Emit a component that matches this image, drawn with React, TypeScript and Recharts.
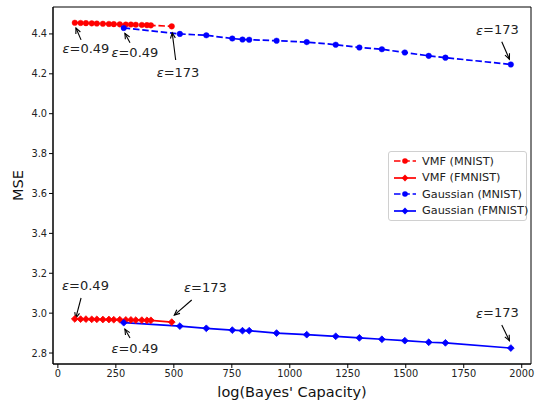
import React from 'react';
import { LineChart, Line, XAxis, YAxis, ReferenceLine, ReferenceDot, ReferenceArea, Legend, Label } from 'recharts';

const vmfCapacity = [73, 98, 121, 146, 168, 194, 220, 241, 267, 293, 315, 336, 362, 384, 401, 491];
const vmfMnistMse = [4.456, 4.455, 4.454, 4.453, 4.452, 4.451, 4.450, 4.449, 4.448, 4.447, 4.447, 4.446, 4.445, 4.444, 4.443, 4.438];
const vmfFmnistMse = [2.971, 2.970, 2.970, 2.969, 2.969, 2.968, 2.968, 2.967, 2.967, 2.966, 2.966, 2.965, 2.965, 2.964, 2.964, 2.955];
const gaussCapacity = [284, 526, 640, 752, 796, 825, 943, 1073, 1198, 1300, 1397, 1496, 1599, 1671, 1953];
const gaussMnistMse = [4.430, 4.400, 4.393, 4.377, 4.372, 4.371, 4.366, 4.359, 4.346, 4.332, 4.323, 4.307, 4.290, 4.281, 4.247];
const gaussFmnistMse = [2.952, 2.935, 2.924, 2.915, 2.912, 2.912, 2.900, 2.892, 2.884, 2.876, 2.869, 2.862, 2.854, 2.851, 2.825];

const xTicks = [0, 250, 500, 750, 1000, 1250, 1500, 1750, 2000];
const yTicks = [2.8, 3.0, 3.2, 3.4, 3.6, 3.8, 4.0, 4.2, 4.4];
const xDomain = [-21, 2040];
const yDomain = [2.745, 4.535];

const annEps = ['0.49', '0.49', '173', '173', '0.49', '173', '0.49', '173'];
const annTextX = [121, 332, 518, 1895, 119, 636, 332, 1895];
const annTextY = [4.329, 4.307, 4.209, 4.42, 3.141, 3.131, 2.825, 3.003];
const annTailX = [100, 311, 508, 1914, 100, 577, 311, 1914];
const annTailY = [4.37, 4.356, 4.269, 4.361, 3.076, 3.066, 2.875, 2.94];
const annHeadX = [78, 289, 493, 1947, 77, 502, 289, 1947];
const annHeadY = [4.43, 4.403, 4.406, 4.273, 2.975, 2.99, 2.92, 2.862];

const zip = (xs: number[], ys: number[]) => xs.map((x, i) => ({ x, y: ys[i] }));
const vmfMnist = zip(vmfCapacity, vmfMnistMse);
const vmfFmnist = zip(vmfCapacity, vmfFmnistMse);
const gaussMnist = zip(gaussCapacity, gaussMnistMse);
const gaussFmnist = zip(gaussCapacity, gaussFmnistMse);

const RED = '#ff0000';
const BLUE = '#0000ff';
const FONT = '"DejaVu Sans", sans-serif';
const DASH = '6.5 2.8';

const makeDiamond = (color: string) => (props: any) => {
  const { cx, cy, index } = props;
  if (cx == null || cy == null) return <g key={index} />;
  const s = 3.4;
  return (
    <polygon
      key={index}
      points={`${cx},${cy - s} ${cx + s},${cy} ${cx},${cy + s} ${cx - s},${cy}`}
      fill={color}
      stroke={color}
      strokeWidth={0.8}
    />
  );
};

const Arrow = (props: any) => {
  const { x1, y1, x2, y2 } = props;
  if ([x1, y1, x2, y2].some((v) => v == null || isNaN(v))) return <g />;
  const ang = Math.atan2(y2 - y1, x2 - x1);
  const L = 6;
  const a = 0.42;
  const p1x = x2 - L * Math.cos(ang - a);
  const p1y = y2 - L * Math.sin(ang - a);
  const p2x = x2 - L * Math.cos(ang + a);
  const p2y = y2 - L * Math.sin(ang + a);
  return (
    <g>
      <line x1={x1} y1={y1} x2={x2} y2={y2} stroke="#000" strokeWidth={1.1} />
      <polyline points={`${p1x},${p1y} ${x2},${y2} ${p2x},${p2y}`} fill="none" stroke="#000" strokeWidth={1.1} />
    </g>
  );
};

const makeEpsText = (eps: string) => (props: any) => {
  const { cx, cy } = props;
  return (
    <text x={cx} y={cy} textAnchor="middle" dominantBaseline="central" fontFamily={FONT} fontSize={13} fill="#222">
      <tspan fontStyle="italic">ε</tspan>={eps}
    </text>
  );
};

const legendItems = [
  { name: 'VMF (MNIST)', color: RED, dashed: true, diamond: false },
  { name: 'VMF (FMNIST)', color: RED, dashed: false, diamond: true },
  { name: 'Gaussian (MNIST)', color: BLUE, dashed: true, diamond: false },
  { name: 'Gaussian (FMNIST)', color: BLUE, dashed: false, diamond: true },
];

const LegendBox = () => (
  <div
    style={{
      border: '1px solid #d0d0d0',
      borderRadius: 3,
      background: 'rgba(255,255,255,0.85)',
      padding: '1px 4px 1px 4px',
      fontFamily: FONT,
      fontSize: 11.3,
      color: '#222',
      boxSizing: 'border-box',
      width: 139,
    }}
  >
    {legendItems.map((it) => (
      <div key={it.name} style={{ display: 'flex', alignItems: 'center', height: 16.5 }}>
        <svg width={24} height={10} style={{ flex: 'none' }}>
          <line x1={1} y1={5} x2={23} y2={5} stroke={it.color} strokeWidth={1.7} strokeDasharray={it.dashed ? DASH : undefined} />
          {it.diamond ? (
            <polygon points="12,1.6 15.4,5 12,8.4 8.6,5" fill={it.color} />
          ) : (
            <circle cx={12} cy={5} r={2.8} fill={it.color} />
          )}
        </svg>
        <span style={{ marginLeft: 5, whiteSpace: 'nowrap' }}>{it.name}</span>
      </div>
    ))}
  </div>
);

export default function App() {
  return (
    <div style={{ position: 'absolute', left: 0, top: 0, width: 536, height: 402, background: '#fff' }}>
      <LineChart width={536} height={402} margin={{ top: 7, right: 5, bottom: 0, left: 8 }}>
        <ReferenceArea
          x1={xDomain[0]}
          x2={xDomain[1]}
          y1={yDomain[0]}
          y2={yDomain[1]}
          fill="none"
          fillOpacity={0}
          stroke="#000"
          strokeWidth={1}
          ifOverflow="visible"
        />
        <XAxis
          type="number"
          dataKey="x"
          domain={xDomain}
          ticks={xTicks}
          allowDataOverflow
          height={38}
          stroke="#000"
          tickSize={4}
          tick={{ fontFamily: FONT, fontSize: 9.8, fill: '#222' }}
          tickMargin={2}
        >
          <Label
            content={(p: any) => {
              const vb = p.viewBox || {};
              return (
                <text x={vb.x + vb.width / 2} y={vb.y + vb.height - 5} textAnchor="middle" fontFamily={FONT} fontSize={14.5} fill="#111">
                  log(Bayes' Capacity)
                </text>
              );
            }}
          />
        </XAxis>
        <YAxis
          type="number"
          domain={yDomain}
          ticks={yTicks}
          allowDataOverflow
          width={45}
          stroke="#000"
          tickSize={4}
          tickMargin={2}
          tickFormatter={(v: number) => v.toFixed(1)}
          tick={{ fontFamily: FONT, fontSize: 9.8, fill: '#222' }}
        >
          <Label
            content={(p: any) => {
              const vb = p.viewBox || {};
              const cx = 18;
              const cy = vb.y + vb.height / 2;
              return (
                <text x={cx} y={cy} textAnchor="middle" dominantBaseline="central" transform={`rotate(-90, ${cx}, ${cy})`} fontFamily={FONT} fontSize={14.5} fill="#111">
                  MSE
                </text>
              );
            }}
          />
        </YAxis>

        <Line data={vmfMnist} dataKey="y" name="VMF (MNIST)" stroke={RED} strokeWidth={1.7} strokeDasharray={DASH}
          dot={{ r: 2.8, fill: RED, stroke: RED, strokeWidth: 0.4, strokeDasharray: '' }} isAnimationActive={false} />
        <Line data={vmfFmnist} dataKey="y" name="VMF (FMNIST)" stroke={RED} strokeWidth={1.7}
          dot={makeDiamond(RED)} isAnimationActive={false} />
        <Line data={gaussMnist} dataKey="y" name="Gaussian (MNIST)" stroke={BLUE} strokeWidth={1.7} strokeDasharray={DASH}
          dot={{ r: 2.8, fill: BLUE, stroke: BLUE, strokeWidth: 0.4, strokeDasharray: '' }} isAnimationActive={false} />
        <Line data={gaussFmnist} dataKey="y" name="Gaussian (FMNIST)" stroke={BLUE} strokeWidth={1.7}
          dot={makeDiamond(BLUE)} isAnimationActive={false} />

        {annEps.map((eps, i) => (
          <ReferenceLine
            key={`arrow-${i}`}
            segment={[
              { x: annTailX[i], y: annTailY[i] },
              { x: annHeadX[i], y: annHeadY[i] },
            ]}
            shape={Arrow}
            ifOverflow="visible"
          />
        ))}
        {annEps.map((eps, i) => (
          <ReferenceDot key={`txt-${i}`} x={annTextX[i]} y={annTextY[i]} r={0} shape={makeEpsText(eps)} ifOverflow="visible" />
        ))}

        <Legend
          layout="vertical"
          align="center"
          verticalAlign="middle"
          wrapperStyle={{ left: 388, top: 151, width: 139 }}
          content={() => <LegendBox />}
        />
      </LineChart>
    </div>
  );
}
